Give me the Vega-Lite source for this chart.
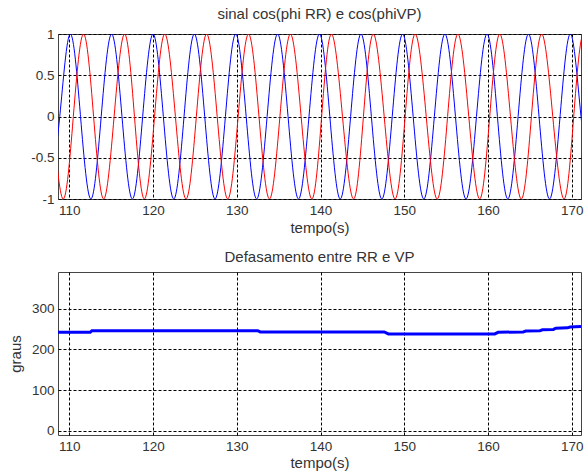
{
  "$schema": "https://vega.github.io/schema/vega-lite/v6.json",
  "padding": {"left": 7, "top": 6, "right": 1, "bottom": 0},
  "background": "white",
  "spacing": 13,
  "config": {
    "font": "Liberation Sans",
    "view": {"stroke": "#444", "strokeWidth": 1},
    "axis": {
      "labelFont": "Liberation Sans",
      "titleFont": "Liberation Sans",
      "labelFontSize": 13.5,
      "titleFontSize": 15,
      "titleFontWeight": "normal",
      "labelColor": "#333",
      "titleColor": "#333",
      "domain": false,
      "grid": true,
      "gridColor": "#000",
      "gridOpacity": 1,
      "gridDash": [3, 2],
      "gridWidth": 1,
      "ticks": false,
      "labelPadding": 4,
      "labelFlush": false
    },
    "title": {
      "font": "Liberation Sans",
      "fontSize": 15,
      "fontWeight": "normal",
      "color": "#333",
      "anchor": "middle",
      "offset": 5
    }
  },
  "datasets": {
    "sig": [
      {"t": 107.62, "v": -1, "s": "RR"}, {"t": 108.86, "v": 0, "s": "RR"}, {"t": 110.1, "v": 1, "s": "RR"}, {"t": 111.34, "v": 0, "s": "RR"},
      {"t": 112.58, "v": -1, "s": "RR"}, {"t": 113.81, "v": 0, "s": "RR"}, {"t": 115.05, "v": 1, "s": "RR"}, {"t": 116.29, "v": 0, "s": "RR"},
      {"t": 117.53, "v": -1, "s": "RR"}, {"t": 118.76, "v": 0, "s": "RR"}, {"t": 120.0, "v": 1, "s": "RR"}, {"t": 121.23, "v": 0, "s": "RR"},
      {"t": 122.47, "v": -1, "s": "RR"}, {"t": 123.70, "v": 0, "s": "RR"}, {"t": 124.93, "v": 1, "s": "RR"}, {"t": 126.17, "v": 0, "s": "RR"},
      {"t": 127.40, "v": -1, "s": "RR"}, {"t": 128.64, "v": 0, "s": "RR"}, {"t": 129.87, "v": 1, "s": "RR"}, {"t": 131.12, "v": 0, "s": "RR"},
      {"t": 132.37, "v": -1, "s": "RR"}, {"t": 133.62, "v": 0, "s": "RR"}, {"t": 134.87, "v": 1, "s": "RR"}, {"t": 136.12, "v": 0, "s": "RR"},
      {"t": 137.37, "v": -1, "s": "RR"}, {"t": 138.62, "v": 0, "s": "RR"}, {"t": 139.87, "v": 1, "s": "RR"}, {"t": 141.11, "v": 0, "s": "RR"},
      {"t": 142.35, "v": -1, "s": "RR"}, {"t": 143.59, "v": 0, "s": "RR"}, {"t": 144.83, "v": 1, "s": "RR"}, {"t": 146.07, "v": 0, "s": "RR"},
      {"t": 147.32, "v": -1, "s": "RR"}, {"t": 148.56, "v": 0, "s": "RR"}, {"t": 149.8, "v": 1, "s": "RR"}, {"t": 151.06, "v": 0, "s": "RR"},
      {"t": 152.33, "v": -1, "s": "RR"}, {"t": 153.59, "v": 0, "s": "RR"}, {"t": 154.85, "v": 1, "s": "RR"}, {"t": 156.11, "v": 0, "s": "RR"},
      {"t": 157.37, "v": -1, "s": "RR"}, {"t": 158.62, "v": 0, "s": "RR"}, {"t": 159.88, "v": 1, "s": "RR"}, {"t": 161.12, "v": 0, "s": "RR"},
      {"t": 162.36, "v": -1, "s": "RR"}, {"t": 163.59, "v": 0, "s": "RR"}, {"t": 164.83, "v": 1, "s": "RR"}, {"t": 166.09, "v": 0, "s": "RR"},
      {"t": 167.34, "v": -1, "s": "RR"}, {"t": 168.60, "v": 0, "s": "RR"}, {"t": 169.85, "v": 1, "s": "RR"}, {"t": 171.1, "v": 0, "s": "RR"},
      {"t": 172.34, "v": -1, "s": "RR"},
      {"t": 106.7, "v": 1, "s": "VP"}, {"t": 107.95, "v": 0, "s": "VP"}, {"t": 109.25, "v": -1, "s": "VP"}, {"t": 110.48, "v": 0, "s": "VP"},
      {"t": 111.7, "v": 1, "s": "VP"}, {"t": 112.9, "v": 0, "s": "VP"}, {"t": 114.1, "v": -1, "s": "VP"}, {"t": 115.35, "v": 0, "s": "VP"},
      {"t": 116.6, "v": 1, "s": "VP"}, {"t": 117.78, "v": 0, "s": "VP"}, {"t": 118.96, "v": -1, "s": "VP"}, {"t": 120.18, "v": 0, "s": "VP"},
      {"t": 121.4, "v": 1, "s": "VP"}, {"t": 122.67, "v": 0, "s": "VP"}, {"t": 123.94, "v": -1, "s": "VP"}, {"t": 125.17, "v": 0, "s": "VP"},
      {"t": 126.4, "v": 1, "s": "VP"}, {"t": 127.66, "v": 0, "s": "VP"}, {"t": 128.92, "v": -1, "s": "VP"}, {"t": 130.16, "v": 0, "s": "VP"},
      {"t": 131.4, "v": 1, "s": "VP"}, {"t": 132.65, "v": 0, "s": "VP"}, {"t": 133.9, "v": -1, "s": "VP"}, {"t": 135.15, "v": 0, "s": "VP"},
      {"t": 136.4, "v": 1, "s": "VP"}, {"t": 137.68, "v": 0, "s": "VP"}, {"t": 138.96, "v": -1, "s": "VP"}, {"t": 140.13, "v": 0, "s": "VP"},
      {"t": 141.3, "v": 1, "s": "VP"}, {"t": 142.62, "v": 0, "s": "VP"}, {"t": 143.94, "v": -1, "s": "VP"}, {"t": 145.12, "v": 0, "s": "VP"},
      {"t": 146.3, "v": 1, "s": "VP"}, {"t": 147.6, "v": 0, "s": "VP"}, {"t": 148.9, "v": -1, "s": "VP"}, {"t": 150.1, "v": 0, "s": "VP"},
      {"t": 151.3, "v": 1, "s": "VP"}, {"t": 152.62, "v": 0, "s": "VP"}, {"t": 153.93, "v": -1, "s": "VP"}, {"t": 155.17, "v": 0, "s": "VP"},
      {"t": 156.4, "v": 1, "s": "VP"}, {"t": 157.7, "v": 0, "s": "VP"}, {"t": 159.0, "v": -1, "s": "VP"}, {"t": 160.2, "v": 0, "s": "VP"},
      {"t": 161.4, "v": 1, "s": "VP"}, {"t": 162.68, "v": 0, "s": "VP"}, {"t": 163.97, "v": -1, "s": "VP"}, {"t": 165.18, "v": 0, "s": "VP"},
      {"t": 166.4, "v": 1, "s": "VP"}, {"t": 167.73, "v": 0, "s": "VP"}, {"t": 169.07, "v": -1, "s": "VP"}, {"t": 170.23, "v": 0, "s": "VP"},
      {"t": 171.4, "v": 1, "s": "VP"}, {"t": 172.65, "v": 0, "s": "VP"}
    ],
    "phase": [
      {"t": 108.65, "g": 242}, {"t": 112.5, "g": 242}, {"t": 112.7, "g": 246}, {"t": 132.5, "g": 246},
      {"t": 132.8, "g": 243}, {"t": 147.6, "g": 243}, {"t": 148.1, "g": 238}, {"t": 160.8, "g": 238},
      {"t": 161.2, "g": 242}, {"t": 164.2, "g": 243}, {"t": 164.5, "g": 245}, {"t": 166.2, "g": 246},
      {"t": 166.5, "g": 248}, {"t": 167.8, "g": 249}, {"t": 168.1, "g": 252}, {"t": 169.5, "g": 253},
      {"t": 169.8, "g": 255}, {"t": 171.1, "g": 256}
    ]
  },
  "vconcat": [
    {
      "width": 523,
      "height": 165,
      "title": "sinal cos(phi RR) e cos(phiVP)",
      "data": {"name": "sig"},
      "mark": {"type": "line", "interpolate": "natural", "clip": true, "strokeWidth": 1},
      "encoding": {
        "x": {"field": "t", "type": "quantitative", "scale": {"domain": [108.65, 171.1], "nice": false, "zero": false},
              "axis": {"values": [110, 120, 130, 140, 150, 160, 170], "title": "tempo(s)", "titlePadding": 4}},
        "y": {"field": "v", "type": "quantitative", "scale": {"domain": [-1, 1], "nice": false},
              "axis": {"values": [-1, -0.5, 0, 0.5, 1], "title": null, "labelExpr": "'' + datum.value"}},
        "color": {"field": "s", "type": "nominal", "scale": {"domain": ["RR", "VP"], "range": ["#0000ff", "#ff0000"]}, "legend": null}
      }
    },
    {
      "width": 523,
      "height": 163,
      "title": {"text": "Defasamento entre RR e VP", "offset": 7},
      "data": {"name": "phase"},
      "mark": {"type": "line", "clip": true, "strokeWidth": 3, "color": "#0000ff"},
      "encoding": {
        "x": {"field": "t", "type": "quantitative", "scale": {"domain": [108.65, 171.1], "nice": false, "zero": false},
              "axis": {"values": [110, 120, 130, 140, 150, 160, 170], "title": "tempo(s)", "titlePadding": 3}},
        "y": {"field": "g", "type": "quantitative", "scale": {"domain": [-10, 390], "nice": false},
              "axis": {"values": [0, 100, 200, 300], "title": "graus", "titlePadding": 8}}
      }
    }
  ]
}
